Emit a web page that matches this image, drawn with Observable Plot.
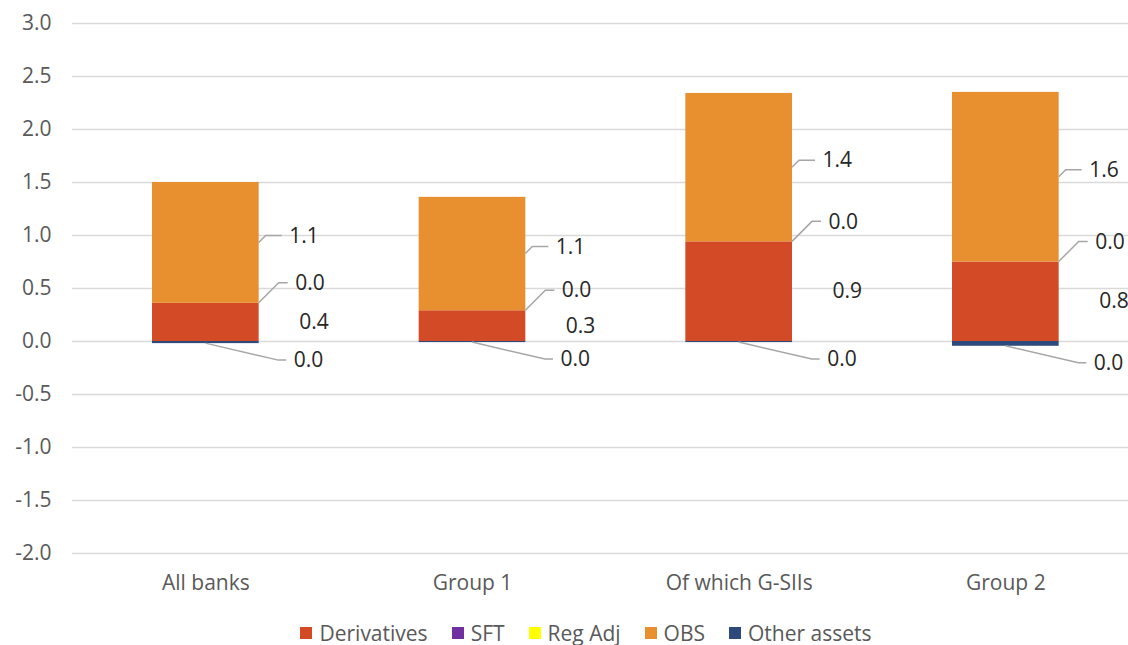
<!DOCTYPE html>
<html>
<head>
<meta charset="utf-8">
<script src="https://cdn.jsdelivr.net/npm/d3@7"></script>
<script src="https://cdn.jsdelivr.net/npm/@observablehq/plot@0.6"></script>
<style>
  html, body { margin: 0; padding: 0; background: #fff; }
  body { width: 1128px; height: 645px; overflow: hidden; font-family: "Open Sans", sans-serif; }
  #legend { display: flex; justify-content: center; gap: 24px; padding-left: 44px; box-sizing: border-box; width: 1128px;
            font-size: 21px; color: #595959; height: 30px; line-height: 30px; margin-top: 6px; }
  #legend .item { display: flex; align-items: center; gap: 7px; }
  #legend .sw { width: 12px; height: 12px; display: inline-block; }
</style>
</head>
<body>
<div id="chart"></div>
<div id="legend"></div>
<script>
// ---- Data ----
const categories = ["All banks", "Group 1", "Of which G-SIIs", "Group 2"];
const seriesNames = ["Derivatives", "SFT", "Reg Adj", "OBS", "Other assets"];
const seriesColors = ["#D34B26", "#7030A0", "#FFFF00", "#E8902F", "#2E4A7D"];
const derivatives = [0.36, 0.29, 0.94, 0.75];
const sft = [0.0, 0.0, 0.0, 0.0];
const regAdj = [0.0, 0.0, 0.0, 0.0];
const obs = [1.14, 1.07, 1.40, 1.60];
const otherAssets = [-0.02, -0.01, -0.01, -0.045];
const yTicks = [-2.0, -1.5, -1.0, -0.5, 0.0, 0.5, 1.0, 1.5, 2.0, 2.5, 3.0];

// ---- Stack (positives up, negatives down, in series order) ----
const values = [derivatives, sft, regAdj, obs, otherAssets];
const rects = [];
categories.forEach((c, i) => {
  let pos = 0, neg = 0;
  seriesNames.forEach((s, k) => {
    const v = values[k][i];
    if (v >= 0) { rects.push({i, series: s, y1: pos, y2: pos + v, value: v}); pos += v; }
    else { rects.push({i, series: s, y1: neg, y2: neg + v, value: v}); neg += v; }
  });
});
const seg = (name, i) => rects.find(r => r.series === name && r.i === i);
const fmt = v => (Math.abs(v) < 0.05 ? 0 : v).toFixed(1);
const halfBar = 0.2;

// label groups: anchor from data, pixel offsets are style
const labelDefs = [
  {series: "Derivatives", ax: i => i + halfBar, ay: i => (seg("Derivatives", i).y1 + seg("Derivatives", i).y2) / 2, dx: 40, dy: 0, leader: false},
  {series: "SFT", ax: i => i + halfBar, ay: i => seg("SFT", i).y2, dx: 36, dy: -20, leader: true, bend: 20},
  {series: "OBS", ax: i => i + halfBar, ay: i => (seg("OBS", i).y1 + seg("OBS", i).y2) / 2, dx: 30, dy: -7, leader: true, bend: 7},
  {series: "Other assets", ax: i => i, ay: i => seg("Other assets", i).y2, dx: 88, dy: 17, leader: true, bend: 73}
];
labelDefs.forEach(def => {
  def.data = categories.map((c, i) => ({x: def.ax(i), y: def.ay(i), text: fmt(seg(def.series, i).value)}));
});

const leaderMark = (index, scales) => {
  const g = d3.create("svg:g").attr("fill", "none").attr("stroke", "#A6A6A6").attr("stroke-width", 1.5);
  labelDefs.filter(d => d.leader).forEach(def => def.data.forEach(l => {
    const x0 = scales.x(l.x), y0 = scales.y(l.y);
    const y1 = y0 + def.dy;
    g.append("path").attr("d", `M${x0},${y0}L${x0 + def.bend},${y1}L${x0 + def.dx - 7},${y1}`);
  }));
  return g.node();
};

const chart = Plot.plot({
  width: 1128,
  height: 612,
  marginLeft: 72,
  marginRight: 0,
  marginTop: 23,
  marginBottom: 59,
  style: {fontFamily: "Open Sans, sans-serif", fontSize: "21px", color: "#595959", background: "#fff"},
  x: {domain: [-0.5, 3.46], ticks: [0, 1, 2, 3], tickFormat: i => categories[i], tickSize: 0, tickPadding: 22, label: null},
  y: {domain: [-2, 3], ticks: yTicks, tickFormat: d => d.toFixed(1), tickSize: 0, tickPadding: 21, label: null},
  color: {domain: seriesNames, range: seriesColors},
  marks: [
    Plot.ruleY(yTicks, {stroke: "#D9D9D9", strokeWidth: 1.5}),
    Plot.rect(rects, {x1: d => d.i - halfBar, x2: d => d.i + halfBar, y1: "y1", y2: "y2", fill: "series"}),
    leaderMark,
    ...labelDefs.map(def => Plot.text(def.data, {x: "x", y: "y", text: "text", dx: def.dx, dy: def.dy,
      textAnchor: "start", fill: "#262626", fontSize: 21}))
  ]
});
document.getElementById("chart").appendChild(chart);

// Legend
const legend = d3.select("#legend");
seriesNames.forEach((s, k) => {
  const it = legend.append("div").attr("class", "item");
  it.append("span").attr("class", "sw").style("background", seriesColors[k]);
  it.append("span").text(s);
});
</script>
</body>
</html>
